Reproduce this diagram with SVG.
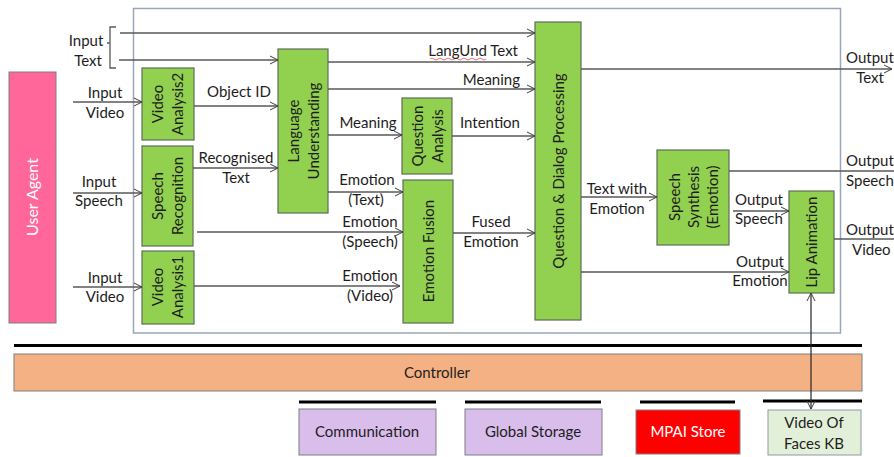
<svg xmlns="http://www.w3.org/2000/svg" width="894" height="457" viewBox="0 0 894 457">
<defs>
<marker id="ah" markerWidth="10" markerHeight="10" refX="9" refY="5" orient="auto" markerUnits="userSpaceOnUse">
<path d="M1,1 L9,5 L1,9" fill="none" stroke="#404040" stroke-width="1"/>
</marker>
<marker id="ahs" markerWidth="10" markerHeight="10" refX="9" refY="5" orient="auto-start-reverse" markerUnits="userSpaceOnUse">
<path d="M1,1 L9,5 L1,9" fill="none" stroke="#404040" stroke-width="1"/>
</marker>
</defs>
<style>
text{font-family:"Lato","Open Sans","Liberation Sans",sans-serif;font-size:15px;fill:#1e1e1e}
.c{text-anchor:middle}
.e{text-anchor:end}
.g{fill:#92D050;stroke:#5E6E58;stroke-width:1.2}
.ln{stroke:#595959;stroke-width:1.3;fill:none}
.ar{marker-end:url(#ah)}
.bar{stroke:#000;stroke-width:3}
</style>
<rect x="0" y="0" width="894" height="457" fill="#ffffff"/>
<rect id="frame" x="133.5" y="8.5" width="707" height="324.5" fill="none" stroke="#9AA6B8" stroke-width="1.5"/>

<g id="user-agent"><rect x="9" y="72" width="47" height="251" fill="#FF6699" stroke="#7F7F7F" stroke-width="1"/>
<text class="c" transform="translate(32,197) rotate(-90)" y="6" style="fill:#fff;font-size:16px">User Agent</text></g>

<g id="video-analysis2"><rect class="g" x="142" y="68" width="52" height="72"/>
<text class="c" transform="translate(168,104) rotate(-90)"><tspan x="0" y="-5">Video</tspan><tspan x="0" y="15">Analysis2</tspan></text></g>

<g id="speech-recognition"><rect class="g" x="142" y="146" width="51" height="100"/>
<text class="c" transform="translate(168,196) rotate(-90)"><tspan x="0" y="-5">Speech</tspan><tspan x="0" y="15">Recognition</tspan></text></g>

<g id="video-analysis1"><rect class="g" x="142" y="251" width="52" height="73"/>
<text class="c" transform="translate(168,287) rotate(-90)"><tspan x="0" y="-5">Video</tspan><tspan x="0" y="15">Analysis1</tspan></text></g>

<g id="language-understanding"><rect class="g" x="278" y="49" width="50" height="164"/>
<text class="c" transform="translate(303,131) rotate(-90)"><tspan x="0" y="-4">Language</tspan><tspan x="0" y="16">Understanding</tspan></text></g>

<g id="question-analysis"><rect class="g" x="402" y="98" width="50" height="76"/>
<text class="c" transform="translate(427,136) rotate(-90)"><tspan x="0" y="-4">Question</tspan><tspan x="0" y="16">Analysis</tspan></text></g>

<g id="emotion-fusion"><rect class="g" x="403" y="180" width="50" height="143"/>
<text class="c" transform="translate(428,251) rotate(-90)" y="6">Emotion Fusion</text></g>

<g id="qdp"><rect class="g" x="535" y="22" width="46" height="298"/>
<text class="c" transform="translate(558,171) rotate(-90)" y="6">Question &amp; Dialog Processing</text></g>

<g id="speech-synthesis"><rect class="g" x="657" y="150" width="72" height="95"/>
<text class="c" transform="translate(693,197) rotate(-90)"><tspan x="0" y="-13">Speech</tspan><tspan x="0" y="6">Synthesis</tspan><tspan x="0" y="25">(Emotion)</tspan></text></g>

<g id="lip-animation"><rect class="g" x="789" y="191" width="45" height="102"/>
<text class="c" transform="translate(811,242) rotate(-90)" y="6">Lip Animation</text></g>

<g id="controller"><line class="bar" x1="14" y1="345.5" x2="862" y2="345.5"/>
<rect x="14" y="354" width="848" height="37" fill="#F4B183" stroke="#7F7F7F" stroke-width="1"/>
<text class="c" x="437" y="378">Controller</text></g>

<g id="communication"><line class="bar" x1="299" y1="402" x2="436" y2="402"/>
<rect x="299" y="409" width="137" height="46" fill="#D9BDEB" stroke="#7F7F7F" stroke-width="1"/>
<text class="c" x="367" y="437">Communication</text></g>

<g id="global-storage"><line class="bar" x1="465" y1="402" x2="601" y2="402"/>
<rect x="465" y="409" width="137" height="46" fill="#D9BDEB" stroke="#7F7F7F" stroke-width="1"/>
<text class="c" x="533" y="437">Global Storage</text></g>

<g id="mpai-store"><line class="bar" x1="640" y1="402" x2="735" y2="402"/>
<rect x="636" y="410" width="104" height="44" fill="#FF0000" stroke="#7F7F7F" stroke-width="1"/>
<text class="c" x="688" y="437" style="fill:#fff">MPAI Store</text></g>

<g id="video-faces-kb"><line class="bar" x1="763" y1="401" x2="862" y2="401"/>
<rect x="768" y="410" width="93" height="45" fill="#E2F0D9" stroke="#8E9AA5" stroke-width="1"/>
<text class="c" x="814" y="428">Video Of</text><text class="c" x="814" y="449">Faces KB</text></g>

<g id="connectors">
<path class="ln" d="M116,27 L110,27 L110,68 L116,68 M110,43 L107,43" stroke-width="1"/>
<line class="ln ar" x1="120" y1="33" x2="535" y2="33"/>
<line class="ln ar" x1="119" y1="60" x2="278" y2="60"/>
<line class="ln ar" x1="73" y1="102" x2="142" y2="102"/>
<line class="ln ar" x1="194" y1="106" x2="278" y2="106"/>
<line class="ln ar" x1="73" y1="193" x2="142" y2="193"/>
<line class="ln ar" x1="193" y1="168" x2="278" y2="168"/>
<line class="ln ar" x1="73" y1="287" x2="142" y2="287"/>
<line class="ln ar" x1="197" y1="232" x2="403" y2="232"/>
<line class="ln ar" x1="194" y1="286" x2="400" y2="286"/>
<line class="ln ar" x1="328" y1="62" x2="535" y2="62"/>
<line class="ln ar" x1="328" y1="89" x2="535" y2="89"/>
<line class="ln ar" x1="328" y1="135" x2="402" y2="135"/>
<line class="ln ar" x1="452" y1="136" x2="535" y2="136"/>
<line class="ln ar" x1="328" y1="192" x2="403" y2="192"/>
<line class="ln ar" x1="453" y1="233" x2="535" y2="233"/>
<line class="ln ar" x1="581" y1="69" x2="892" y2="69" stroke="#262626"/>
<line class="ln ar" x1="581" y1="197" x2="657" y2="197"/>
<line class="ln" x1="729" y1="171" x2="894" y2="171"/>
<line class="ln ar" x1="733" y1="211" x2="789" y2="211"/>
<line class="ln ar" x1="581" y1="272" x2="789" y2="272"/>
<line class="ln" x1="834" y1="239" x2="894" y2="239" stroke="#262626"/>
<line x1="811" y1="293" x2="811" y2="409" stroke="#262626" stroke-width="1.2" marker-start="url(#ahs)" marker-end="url(#ah)"/>
<path d="M430,59 q2,-2 4,0 t4,0 t4,0 t4,0 t4,0 t4,0 t4,0 t4,0 t4,0 t4,0 t4,0 t4,0 t4,0 t4,0" fill="none" stroke="#E05050" stroke-width="0.8"/>
</g>

<g id="labels">
<text class="c" x="86" y="46">Input</text><text class="c" x="88" y="66">Text</text>
<text class="c" x="105" y="98">Input</text><text class="c" x="105" y="118">Video</text>
<text class="c" x="99" y="187">Input</text><text class="c" x="99" y="206">Speech</text>
<text class="c" x="105" y="283">Input</text><text class="c" x="105" y="302">Video</text>
<text class="c" x="239" y="97">Object ID</text>
<text class="c" x="236" y="163">Recognised</text><text class="c" x="236" y="183">Text</text>
<text class="e" x="518" y="56">LangUnd Text</text>
<text class="e" x="520" y="85">Meaning</text>
<text class="c" x="368" y="128">Meaning</text>
<text class="c" x="490" y="128">Intention</text>
<text class="c" x="367" y="185">Emotion</text><text class="c" x="366" y="205">(Text)</text>
<text class="c" x="370" y="227">Emotion</text><text class="c" x="370" y="247">(Speech)</text>
<text class="c" x="370" y="281">Emotion</text><text class="c" x="370" y="301">(Video)</text>
<text class="c" x="491" y="227">Fused</text><text class="c" x="491" y="247">Emotion</text>
<text x="846" y="63">Output</text><text class="c" x="870" y="83">Text</text>
<text class="c" x="617" y="194">Text with</text><text class="c" x="617" y="214">Emotion</text>
<text x="846" y="166">Output</text><text x="846" y="186">Speech</text>
<text class="c" x="759" y="205">Output</text><text class="c" x="759" y="224">Speech</text>
<text class="c" x="760" y="267">Output</text><text class="c" x="760" y="286">Emotion</text>
<text x="846" y="235">Output</text><text x="852" y="255">Video</text>
</g>
</svg>
